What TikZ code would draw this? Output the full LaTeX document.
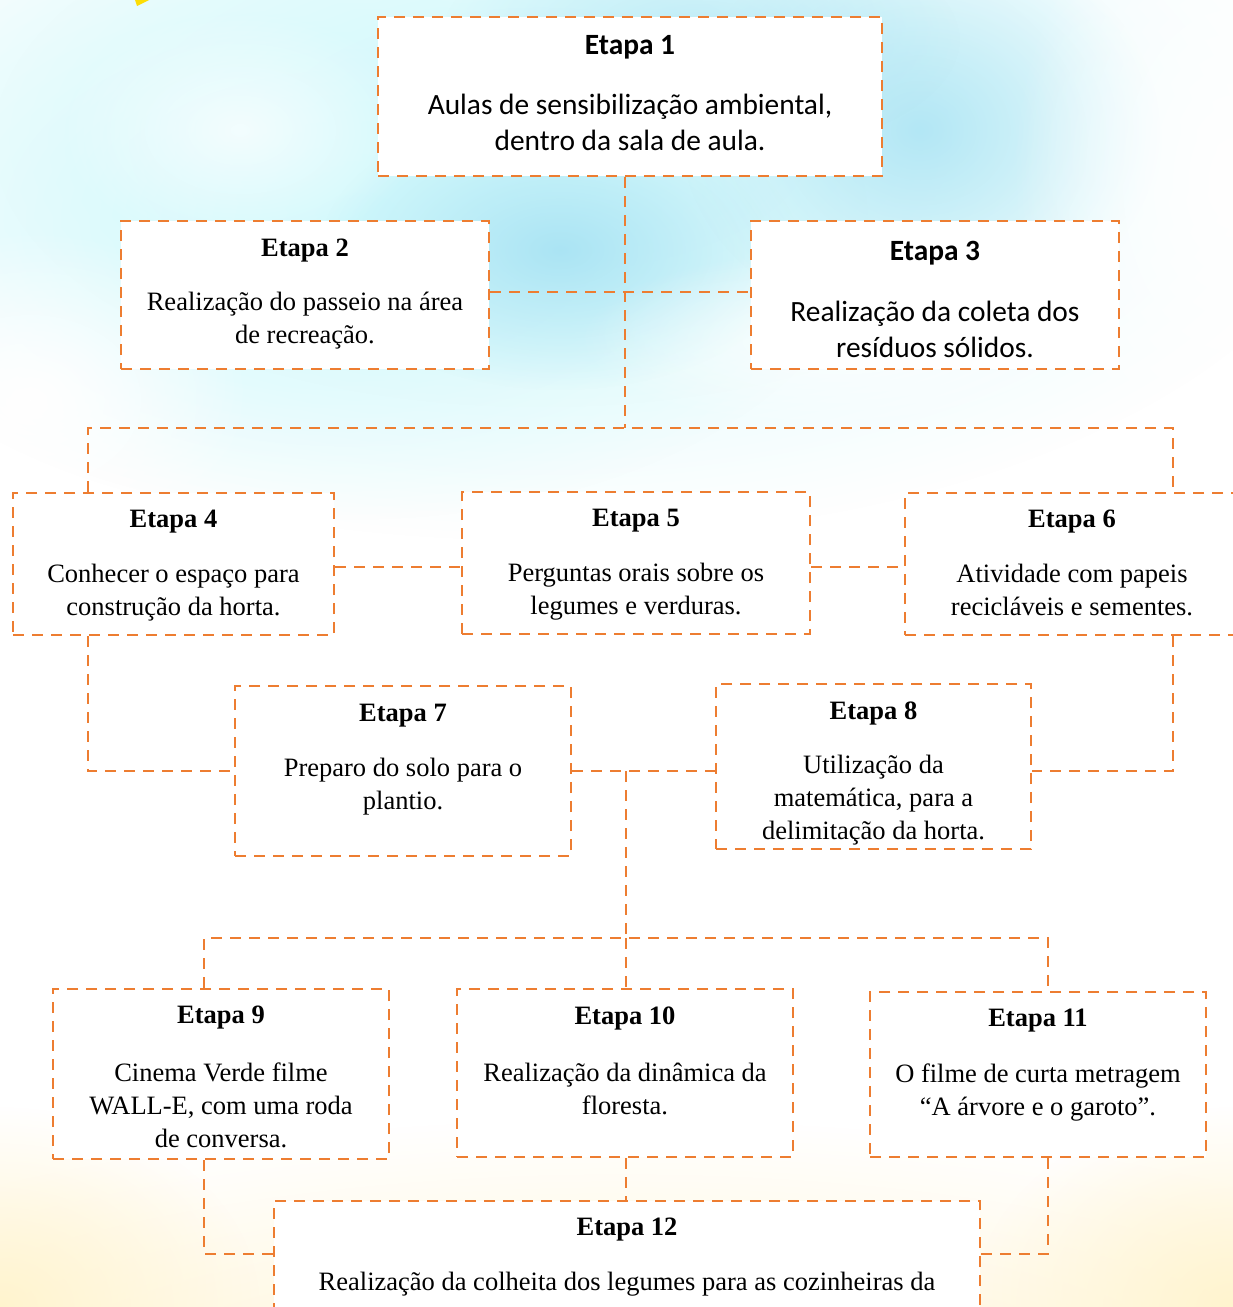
\documentclass[tikz,border=0pt]{standalone}
\usepackage{fontspec}
\setmainfont{Liberation Serif}
\newfontfamily\calib{Carlito}
\usetikzlibrary{fadings}
\tikzfading[name=softedge, inner color=transparent!0, outer color=transparent!100]
\definecolor{lineorange}{RGB}{237,125,49}
\definecolor{skylight}{RGB}{210,249,252}
\definecolor{skyblue}{RGB}{166,226,243}
\definecolor{sandy}{RGB}{255,244,206}
\tikzset{
  conn/.style={draw=lineorange, line width=2.9pt, dash pattern=on 11pt off 8pt},
  stepbox/.style={conn, fill=white, rectangle, inner sep=0pt},
  serifttl/.style={inner sep=0pt, font=\fontsize{26.5}{33}\selectfont\bfseries},
  serifbody/.style={inner sep=0pt, align=center, font=\fontsize{26.5}{33}\selectfont},
  sansttl/.style={inner sep=0pt, font=\calib\fontsize{29.4}{36}\selectfont\bfseries},
  sansbody/.style={inner sep=0pt, align=center, font=\calib\fontsize{29.4}{36}\selectfont},
}
\newcommand{\mkbox}[5]{% name, x1, y1, x2, y2
  \node[stepbox, minimum width={#4-#2}, minimum height={#5-#3}] (#1) at ({(#2+#4)/2},{(#3+#5)/2}) {};}
\begin{document}
\begin{tikzpicture}[x=1pt,y=-1pt]
\useasboundingbox (0,0) rectangle (1233,1307);
% background
\fill[white] (0,0) rectangle (1233,1307);
\fill[skylight, path fading=softedge] (540,140) ellipse (820 and 400);
\fill[skylight, path fading=softedge] (350,220) ellipse (520 and 300);
\fill[skyblue, path fading=softedge, opacity=0.9] (560,250) ellipse (240 and 140);
\fill[skyblue, path fading=softedge, opacity=0.8] (920,130) ellipse (240 and 200);
\fill[skyblue, path fading=softedge, opacity=0.6] (700,40) ellipse (260 and 120);
\fill[white, path fading=softedge] (30,400) ellipse (220 and 170);
\fill[white, path fading=softedge] (1233,180) ellipse (220 and 340);
\fill[white, path fading=softedge, opacity=0.7] (240,130) ellipse (180 and 120);
\fill[white, path fading=softedge, opacity=0.8] (840,340) ellipse (260 and 90);
\fill[sandy, path fading=softedge] (620,1420) ellipse (1000 and 300);
\fill[sandy, path fading=softedge] (0,1307) ellipse (260 and 200);
\fill[sandy, path fading=softedge] (1233,1307) ellipse (260 and 200);
\fill[yellow!80!orange] (135,0) -- (149,0) -- (137,6) -- cycle;

% junction coordinates
\coordinate (j1) at (625,428);
\coordinate (j2) at (625,292);
\coordinate (bl) at (88,428);
\coordinate (br) at (1173,428);
\coordinate (h45) at (400,567);
\coordinate (j7) at (626,771);
\coordinate (j9) at (626,938);
\coordinate (c9) at (204,938);
\coordinate (c11) at (1048,938);
\coordinate (j12) at (626,1254);

% boxes
\mkbox{e1}{378}{17}{882}{176}
\mkbox{e2}{121}{221}{489}{369}
\mkbox{e3}{751}{221}{1119}{369}
\mkbox{e4}{13}{493}{334}{635}
\mkbox{e5}{462}{492}{810}{634}
\mkbox{e6}{905}{493}{1240}{635}
\mkbox{e7}{235}{686}{571}{856}
\mkbox{e8}{716}{684}{1031}{849}
\mkbox{e9}{53}{989}{389}{1159}
\mkbox{e10}{457}{989}{793}{1157}
\mkbox{e11}{870}{992}{1206}{1157}
\mkbox{e12}{274}{1201}{980}{1340}

% connectors
\draw[conn] (e1.south -| j1) -- (j1);
\draw[conn] (e2.east |- j2) -- (e3.west |- j2);
\draw[conn] (e4.north -| bl) -- (bl) -- (br) -- (e6.north -| br);
\draw[conn] (e4.east |- h45) -- (e5.west |- h45);
\draw[conn] (e5.east |- h45) -- (e6.west |- h45);
\draw[conn] (e4.south -| bl) -- (bl |- j7) -- (e7.west |- j7);
\draw[conn] (e6.south -| br) -- (br |- j7) -- (e8.east |- j7);
\draw[conn] (e7.east |- j7) -- (e8.west |- j7);
\draw[conn] (j7) -- (j9);
\draw[conn] (e9.north -| c9) -- (c9) -- (c11) -- (e11.north -| c11);
\draw[conn] (j9) -- (e10.north -| j9);
\draw[conn] (e9.south -| c9) -- (c9 |- j12) -- (e12.west |- j12);
\draw[conn] (e11.south -| c11) -- (c11 |- j12) -- (e12.east |- j12);
\draw[conn] (e10.south -| j12) -- (e12.north -| j12);

% texts
\node[sansttl] (t1) at (630,47) {Etapa 1};
\node[sansbody] (b1) at (630,122.5) {Aulas de sensibilização ambiental,\\dentro da sala de aula.};
\node[serifttl] (t2) at (305,251) {Etapa 2};
\node[serifbody] (b2) at (305,321) {Realização do passeio na área\\de recreação.};
\node[sansttl] (t3) at (935,253) {Etapa 3};
\node[sansbody] (b3) at (935,329.5) {Realização da coleta dos\\resíduos sólidos.};
\node[serifttl] (t4) at (173.5,522) {Etapa 4};
\node[serifbody] (b4) at (173.5,592.5) {Conhecer o espaço para\\construção da horta.};
\node[serifttl] (t5) at (636,521) {Etapa 5};
\node[serifbody] (b5) at (636,592) {Perguntas orais sobre os\\legumes e verduras.};
\node[serifttl] (t6) at (1072,522) {Etapa 6};
\node[serifbody] (b6) at (1072,589.5) {Atividade com papeis\\recicláveis e sementes.};
\node[serifttl] (t7) at (403,716) {Etapa 7};
\node[serifbody] (b7) at (403,786.5) {Preparo do solo para o\\plantio.};
\node[serifttl] (t8) at (873.5,713) {Etapa 8};
\node[serifbody] (b8) at (873.5,800.5) {Utilização da\\matemática, para a\\delimitação da horta.};
\node[serifttl] (t9) at (221,1018) {Etapa 9};
\node[serifbody] (b9) at (221,1105.5) {Cinema Verde filme\\WALL-E, com uma roda\\de conversa.};
\node[serifttl] (t10) at (625,1018) {Etapa 10};
\node[serifbody] (b10) at (625,1088.5) {Realização da dinâmica da\\floresta.};
\node[serifttl] (t11) at (1038,1021) {Etapa 11};
\node[serifbody] (b11) at (1038,1092.5) {O filme de curta metragem\\“A árvore e o garoto”.};
\node[serifttl] (t12) at (627,1230) {Etapa 12};
\node[serifbody] (b12) at (627,1284) {Realização da colheita dos legumes para as cozinheiras da};
\end{tikzpicture}
\end{document}
